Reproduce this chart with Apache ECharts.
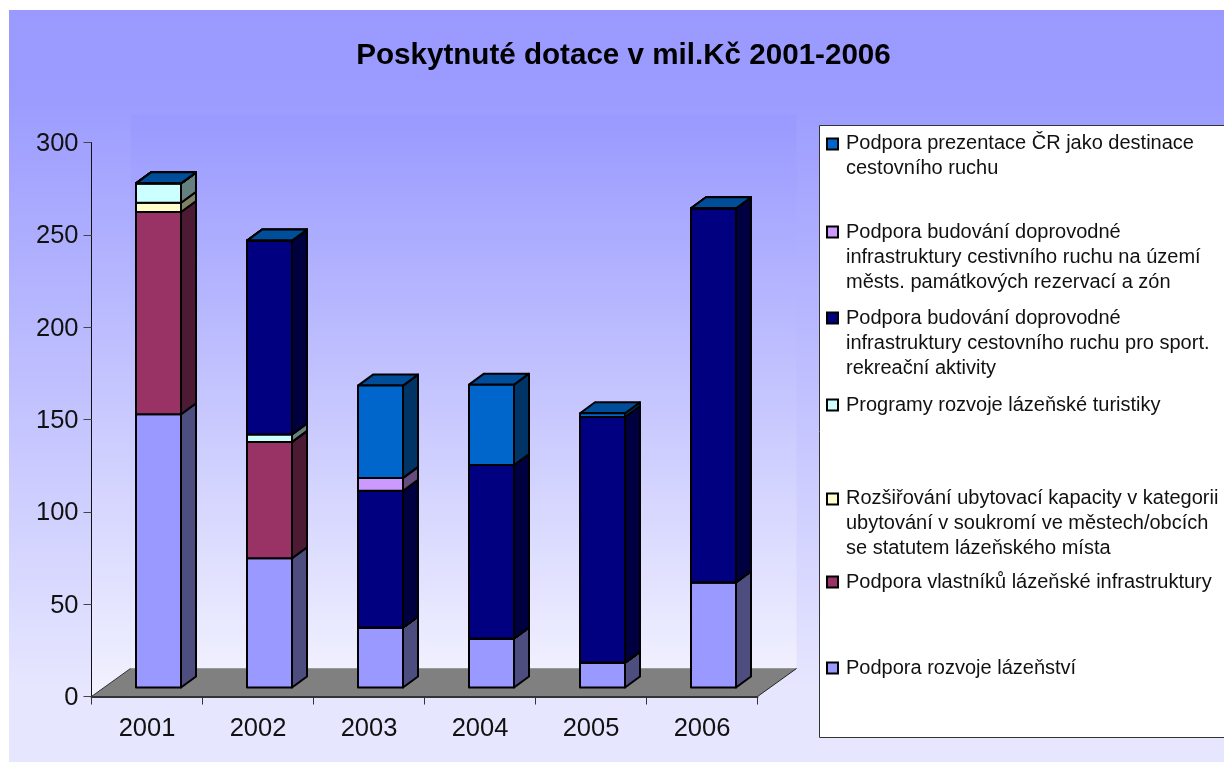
<!DOCTYPE html>
<html><head><meta charset="utf-8">
<style>html,body{margin:0;padding:0;background:#fff}#c{width:1224px;height:762px}</style>
<script src="https://cdn.jsdelivr.net/npm/echarts@6/dist/echarts.min.js"></script>
</head><body><div id="c"></div>
<script>
const titleText = 'Poskytnuté dotace v mil.Kč 2001-2006';
const years = ['2001','2002','2003','2004','2005','2006'];
const seriesNames = [
  'Podpora rozvoje lázeňství',
  'Podpora vlastníků lázeňské infrastruktury',
  'Rozšiřování ubytovací kapacity v kategorii\nubytování v soukromí ve městech/obcích\nse statutem lázeňského místa',
  'Programy rozvoje lázeňské turistiky',
  'Podpora budování doprovodné\ninfrastruktury cestovního ruchu pro sport.\nrekreační aktivity',
  'Podpora budování doprovodné\ninfrastruktury cestivního ruchu na území\nměsts. památkových rezervací a zón',
  'Podpora prezentace ČR jako destinace\ncestovního ruchu'
];
const lazenstvi   = [148, 70, 32.5, 26.5, 13.5, 57];
const vlastniku   = [109.5, 63, 0, 0, 0, 0];
const rozsirovani = [5, 0, 0, 0, 0, 0];
const programy    = [10.5, 4, 0, 0, 0, 0];
const sport       = [0, 105, 74, 94, 133, 202.5];
const mestske     = [0, 0, 7, 0, 0, 0];
const prezentace  = [0, 0, 50, 43.5, 2, 0];
const seriesValues = [lazenstvi, vlastniku, rozsirovani, programy, sport, mestske, prezentace];
const seriesColors = ['#9999FF','#993366','#FFFFCC','#CCFFFF','#000080','#CC99FF','#0066CC'];
const legendTextY = [668, 582, 498, 405, 318, 232, 143];
const legendMarkY = [668, 582, 499, 405, 318, 232, 144];

function shade(hex, f){
  const n = parseInt(hex.slice(1),16);
  const c = [(n>>16)&255,(n>>8)&255,n&255].map(v=>Math.round(v*f));
  return 'rgb('+c.join(',')+')';
}
const wallGrad = new echarts.graphic.LinearGradient(0,0,0,1,[{offset:0,color:'#9999FF'},{offset:1,color:'#F0F0FF'}]);
const sideGrad = new echarts.graphic.LinearGradient(0,0,0,1,[{offset:0,color:'#9E9EFF'},{offset:1,color:'#F2F2FF'}]);
const panelGrad = new echarts.graphic.LinearGradient(0,0,0,1,[{offset:0,color:'#9999FF'},{offset:0.12,color:'#9C9CFF'},{offset:0.9,color:'#E6E6FF'},{offset:1,color:'#E6E6FF'}]);

const DX = 39, DY = -28;
function renderWalls(params, api){
  const r = params.coordSys, x0=r.x, x1=r.x+r.width, yT=r.y, yB=r.y+r.height;
  return {type:'group', silent:true, children:[
    {type:'rect', shape:{x:x0+DX,y:yT+DY,width:r.width,height:r.height}, style:{fill:wallGrad}},
    {type:'polygon', shape:{points:[[x0,yT],[x0+DX,yT+DY],[x0+DX,yB+DY],[x0,yB]]}, style:{fill:sideGrad}},
    {type:'polygon', shape:{points:[[x0,yB],[x0+DX,yB+DY],[x1+DX,yB+DY],[x1,yB]]}, style:{fill:'#808080'}},
    {type:'line', shape:{x1:x0+DX,y1:yB+DY,x2:x1+DX,y2:yB+DY}, style:{stroke:'#999',lineWidth:1}},
    {type:'line', shape:{x1:x1+DX,y1:yB+DY,x2:x1,y2:yB}, style:{stroke:'#222',lineWidth:1}},
    {type:'line', shape:{x1:x0,y1:yB,x2:x0+DX,y2:yB+DY}, style:{stroke:'#333',lineWidth:1}}
  ]};
}
const BL=-11, BW=45, OY=-9, SX=15, SY=-11;
function renderBar(params, api){
  const color = api.visual('color');
  const pLow = api.coord([api.value(0), api.value(1)]);
  const pHigh = api.coord([api.value(0), api.value(2)]);
  const l = pLow[0]+BL, r = l+BW, b = pLow[1]+OY, t = pHigh[1]+OY;
  const st = {stroke:'#000', lineWidth:2, lineJoin:'round'};
  return {type:'group', children:[
    {type:'polygon', shape:{points:[[r,b],[r+SX,b+SY],[r+SX,t+SY],[r,t]]}, style:Object.assign({fill:shade(color,0.5)},st)},
    {type:'polygon', shape:{points:[[l,t],[l+SX,t+SY],[r+SX,t+SY],[r,t]]}, style:Object.assign({fill:shade(color,0.75)},st)},
    {type:'rect', shape:{x:l,y:t,width:BW,height:b-t}, style:Object.assign({fill:color},st)}
  ]};
}
const stackTotals = years.map(()=>0);
const barSeries = seriesValues.map((vals,s)=>{
  const data = vals.map((v,i)=>{const lo=stackTotals[i]; stackTotals[i]=lo+v; return [i,lo,lo+v];});
  return {type:'custom', name:seriesNames[s], data, renderItem:renderBar, itemStyle:{color:seriesColors[s]},
    encode:{x:0,y:[1,2]}, z:3+s, clip:false};
});

const legendGraphics = [{type:'rect', shape:{x:819.5,y:125.5,width:420,height:612}, style:{fill:'#fff',stroke:'#333',lineWidth:1}}];
seriesNames.forEach((n,i)=>{
  legendGraphics.push({type:'rect', shape:{x:827,y:legendMarkY[i]-5.5,width:11,height:11}, style:{fill:seriesColors[i],stroke:'#000',lineWidth:2}});
  legendGraphics.push({type:'text', x:846, y:legendTextY[i]-12.5, style:{text:n, fill:'#111', font:'20px "Liberation Sans"', lineHeight:25, textVerticalAlign:'top'}});
});

const chart = echarts.init(document.getElementById('c'), null, {renderer:'canvas'});
chart.setOption({
  animation:false,
  backgroundColor:'#fff',
  textStyle:{fontFamily:'"Liberation Sans"'},
  title:{text:titleText, left:618.5, top:36, textAlign:'center',
    textStyle:{fontFamily:'"Liberation Sans"',fontWeight:'bold',fontSize:29.6,color:'#000'}},
  graphic:[
    {type:'rect', z:-10, shape:{x:9,y:10,width:1215,height:752}, style:{fill:panelGrad}},
    {type:'group', z:5, children:legendGraphics}
  ],
  grid:{left:91.5,top:142.5,width:666,height:554},
  xAxis:{type:'category',data:years,boundaryGap:true,z:10,
    axisLine:{show:true,lineStyle:{color:'#333',width:2}},
    axisTick:{show:true,length:8,alignWithLabel:false,lineStyle:{color:'#333',width:1}},
    axisLabel:{color:'#111',fontSize:25.5,margin:19,fontFamily:'"Liberation Sans"'},splitLine:{show:false}},
  yAxis:{type:'value',min:0,max:300,interval:50,z:10,
    axisLine:{show:true,lineStyle:{color:'#111',width:1}},
    axisTick:{show:true,length:8,lineStyle:{color:'#444',width:1}},
    axisLabel:{color:'#111',fontSize:25.5,margin:13,verticalAlign:'top',lineHeight:3,fontFamily:'"Liberation Sans"'},splitLine:{show:false}},
  series:[{type:'custom',name:'walls',silent:true,data:[[0,0]],renderItem:renderWalls,z:1,clip:false,encode:{x:0,y:1}}].concat(barSeries)
});
</script></body></html>
